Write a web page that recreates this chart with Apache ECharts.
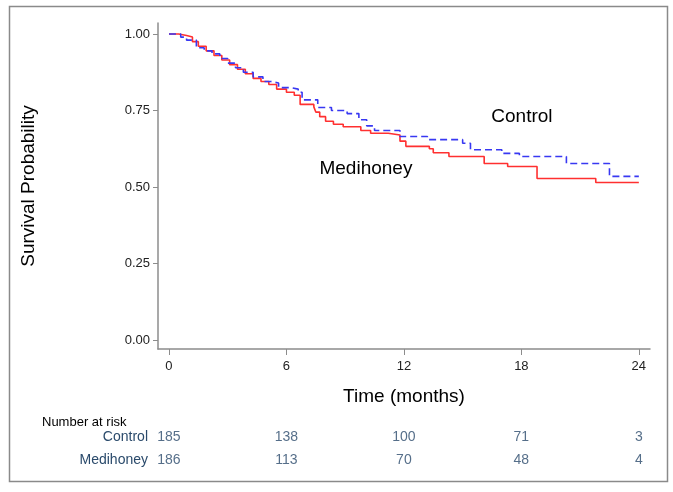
<!DOCTYPE html>
<html><head><meta charset="utf-8">
<script src="https://cdn.jsdelivr.net/npm/echarts@6/dist/echarts.min.js"></script>
<style>html,body{margin:0;padding:0;background:#fff}#c{width:673px;height:492px}</style>
</head><body><div id="c"></div>
<script>
// Kaplan-Meier step points [month, survival]
const medihoney = [[0,1.0],[0.5,0.995],[0.9,0.99],[1.2,0.975],[1.5,0.96],[1.9,0.945],[2.3,0.93],[2.7,0.915],[3.1,0.9],[3.5,0.885],[3.9,0.87],[4.3,0.855],[4.7,0.845],[5.1,0.835],[5.5,0.82],[6.0,0.81],[6.4,0.80],[6.7,0.77],[7.4,0.762],[7.5,0.745],[7.7,0.73],[8.0,0.715],[8.4,0.705],[8.9,0.697],[9.8,0.685],[10.3,0.676],[11.2,0.67],[11.8,0.65],[12.1,0.633],[13.3,0.625],[13.5,0.612],[14.3,0.60],[16.1,0.577],[17.3,0.567],[18.8,0.528],[21.8,0.515],[24,0.515]];
const control = [[0,1.0],[0.6,0.99],[0.9,0.98],[1.4,0.955],[1.8,0.945],[2.2,0.935],[2.6,0.92],[3.0,0.905],[3.4,0.89],[3.8,0.875],[4.3,0.86],[4.8,0.845],[5.2,0.84],[5.6,0.825],[6.2,0.82],[6.6,0.81],[6.8,0.785],[7.6,0.76],[8.3,0.75],[9.1,0.74],[9.7,0.72],[10.1,0.70],[10.5,0.685],[11.8,0.665],[13.2,0.655],[15.0,0.643],[15.4,0.622],[17.0,0.61],[17.9,0.60],[20.3,0.577],[22.5,0.535],[24,0.535]];
const xTicks = [0, 6, 12, 18, 24];
const yTicks = [0, 0.25, 0.5, 0.75, 1];
const riskGroups = ['Control', 'Medihoney'];
const riskControl = [185, 138, 100, 71, 3];
const riskMedihoney = [186, 113, 70, 48, 4];
const annotations = [{name:'Control', x:18.03, y:0.729}, {name:'Medihoney', x:10.06, y:0.559}];

const FONT = '"Liberation Sans", Arial, Helvetica, sans-serif';
const axisGray = '#8c8c8c';
const navy = '#2a4a6b';

const riskData = [];
xTicks.forEach((t, i) => {
  riskData.push({value: [t, riskGroups[0]], label: {formatter: String(riskControl[i])}});
  riskData.push({value: [t, riskGroups[1]], label: {formatter: String(riskMedihoney[i])}});
});

const chart = echarts.init(document.getElementById('c'), null, {renderer: 'canvas'});
chart.setOption({
  animation: false,
  backgroundColor: '#fff',
  textStyle: {fontFamily: FONT},
  title: {text: 'Number at risk', left: 37, top: 411, textStyle: {fontFamily: FONT, fontSize: 13, fontWeight: 'normal', color: '#000'}},
  graphic: [{type: 'rect', shape: {x: 9.5, y: 6.5, width: 658, height: 475}, style: {fill: 'none', stroke: '#8a8a8a', lineWidth: 1.5}, silent: true}],
  grid: [
    {left: 158, right: 23, top: 23, bottom: 143},
    {left: 158, right: 23, top: 425.5, height: 46}
  ],
  xAxis: [
    {type: 'value', gridIndex: 0, min: -0.56, max: 24.57,
     name: 'Time (months)', nameLocation: 'middle', nameGap: 38,
     nameTextStyle: {fontFamily: FONT, fontSize: 19, color: '#000'},
     axisLine: {show: true, onZero: false, lineStyle: {color: axisGray, width: 1.5}},
     axisTick: {show: true, length: 6, lineStyle: {color: axisGray}, customValues: xTicks},
     axisLabel: {margin: 11, fontSize: 13, color: '#222', fontFamily: FONT, customValues: xTicks},
     splitLine: {show: false}},
    {type: 'value', gridIndex: 1, min: -0.56, max: 24.57, show: false}
  ],
  yAxis: [
    {type: 'value', gridIndex: 0, min: -0.029, max: 1.036,
     name: 'Survival Probability', nameLocation: 'middle', nameGap: 120, nameRotate: 90,
     nameTextStyle: {fontFamily: FONT, fontSize: 19, color: '#000'},
     axisLine: {show: true, onZero: false, lineStyle: {color: axisGray, width: 1.5}},
     axisTick: {show: true, length: 5, lineStyle: {color: axisGray}, customValues: yTicks},
     axisLabel: {margin: 8, fontSize: 13, color: '#222', fontFamily: FONT, customValues: yTicks, formatter: v => v.toFixed(2)},
     splitLine: {show: false}},
    {type: 'category', gridIndex: 1, data: riskGroups, inverse: true,
     axisLine: {show: false}, axisTick: {show: false}, splitLine: {show: false},
     axisLabel: {margin: 10, fontSize: 14, color: navy, fontFamily: FONT}}
  ],
  series: [
    {name: 'Medihoney', type: 'line', step: 'end', data: medihoney, showSymbol: false, symbol: 'none',
     lineStyle: {color: '#ff3030', width: 1.6}, z: 3},
    {name: 'Control', type: 'line', step: 'end', data: control, showSymbol: false, symbol: 'none',
     lineStyle: {color: '#3838f2', width: 1.6, type: [7, 4]}, z: 4},
    {type: 'scatter', symbolSize: 0, silent: true,
     data: annotations.map(a => ({value: [a.x, a.y], name: a.name})),
     label: {show: true, position: 'inside', formatter: p => p.name, fontSize: 19, color: '#000', opacity: 1, fontFamily: FONT}},
    {type: 'scatter', xAxisIndex: 1, yAxisIndex: 1, symbolSize: 0, silent: true, data: riskData,
     label: {show: true, position: 'inside', fontSize: 14, color: navy, fontFamily: FONT}}
  ]
});
</script></body></html>
